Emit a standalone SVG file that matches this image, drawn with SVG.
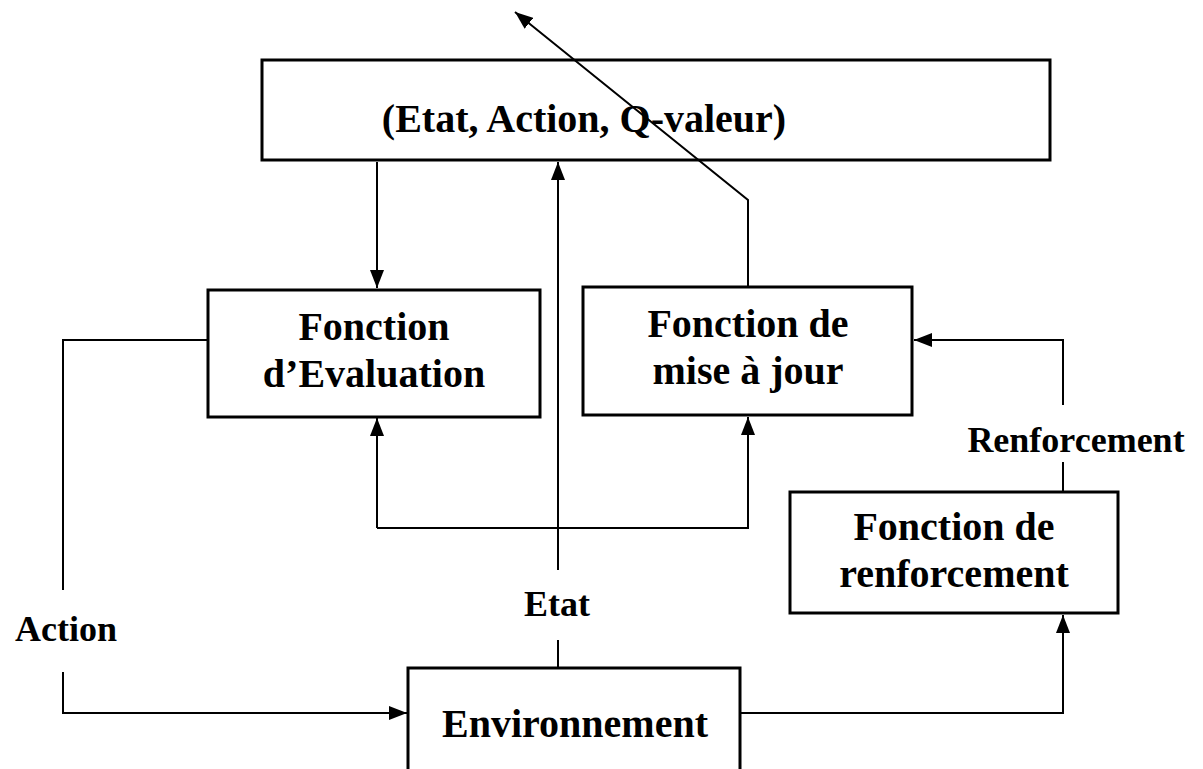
<svg xmlns="http://www.w3.org/2000/svg" width="1203" height="769" viewBox="0 0 1203 769">
<defs>
<marker id="ah" viewBox="0 0 18 14" refX="18" refY="7" markerWidth="18" markerHeight="14" markerUnits="userSpaceOnUse" orient="auto">
<path d="M0,0 L18,7 L0,14 Z" fill="#000"/>
</marker>
</defs>
<style>
.box{fill:#fff;stroke:#000;stroke-width:3}
.c{fill:none;stroke:#000;stroke-width:2}
</style>
<rect width="1203" height="769" fill="#fff"/>
<g id="qtable">
<rect class="box" x="262" y="60" width="788" height="100"/>
<text x="584" y="132" font-family="Liberation Serif" font-weight="bold" font-size="40" text-anchor="middle">(Etat, Action, Q-valeur)</text>
</g>
<g id="evaluation">
<rect class="box" x="208" y="290" width="332" height="127"/>
<text x="374" y="340" font-family="Liberation Serif" font-weight="bold" font-size="40" text-anchor="middle">Fonction</text>
<text x="374" y="387" font-family="Liberation Serif" font-weight="bold" font-size="40" text-anchor="middle">d’Evaluation</text>
</g>
<g id="miseajour">
<rect class="box" x="583" y="287" width="329" height="128"/>
<text x="748" y="337" font-family="Liberation Serif" font-weight="bold" font-size="40" text-anchor="middle">Fonction de</text>
<text x="748" y="384" font-family="Liberation Serif" font-weight="bold" font-size="40" text-anchor="middle">mise à jour</text>
</g>
<g id="renforcement">
<rect class="box" x="790" y="492" width="328" height="121"/>
<text x="954" y="540" font-family="Liberation Serif" font-weight="bold" font-size="40" text-anchor="middle">Fonction de</text>
<text x="954" y="587" font-family="Liberation Serif" font-weight="bold" font-size="40" text-anchor="middle">renforcement</text>
</g>
<g id="environnement">
<rect class="box" x="408" y="668" width="332" height="110"/>
<text x="575" y="737" font-family="Liberation Serif" font-weight="bold" font-size="40" text-anchor="middle">Environnement</text>
</g>
<g id="connectors">
<path class="c" d="M377,162 V288" marker-end="url(#ah)"/>
<path class="c" d="M748,287 V200 L515,12" marker-end="url(#ah)"/>
<path class="c" d="M558,570 V162" marker-end="url(#ah)"/>
<path class="c" d="M558,667 V640"/>
<path class="c" d="M377,528 H748 V417" marker-end="url(#ah)"/>
<path class="c" d="M377,528 V418" marker-end="url(#ah)"/>
<path class="c" d="M208,340 H63 V590"/>
<path class="c" d="M63,672 V713 H407" marker-end="url(#ah)"/>
<path class="c" d="M741,713 H1063 V615" marker-end="url(#ah)"/>
<path class="c" d="M1063,491 V462"/>
<path class="c" d="M1063,405 V340 H914" marker-end="url(#ah)"/>
<text x="1076" y="452" font-family="Liberation Serif" font-weight="bold" font-size="36" text-anchor="middle">Renforcement</text>
<text x="557" y="616" font-family="Liberation Serif" font-weight="bold" font-size="36" text-anchor="middle">Etat</text>
<text x="66" y="641" font-family="Liberation Serif" font-weight="bold" font-size="36" text-anchor="middle">Action</text>
</g>
</svg>
